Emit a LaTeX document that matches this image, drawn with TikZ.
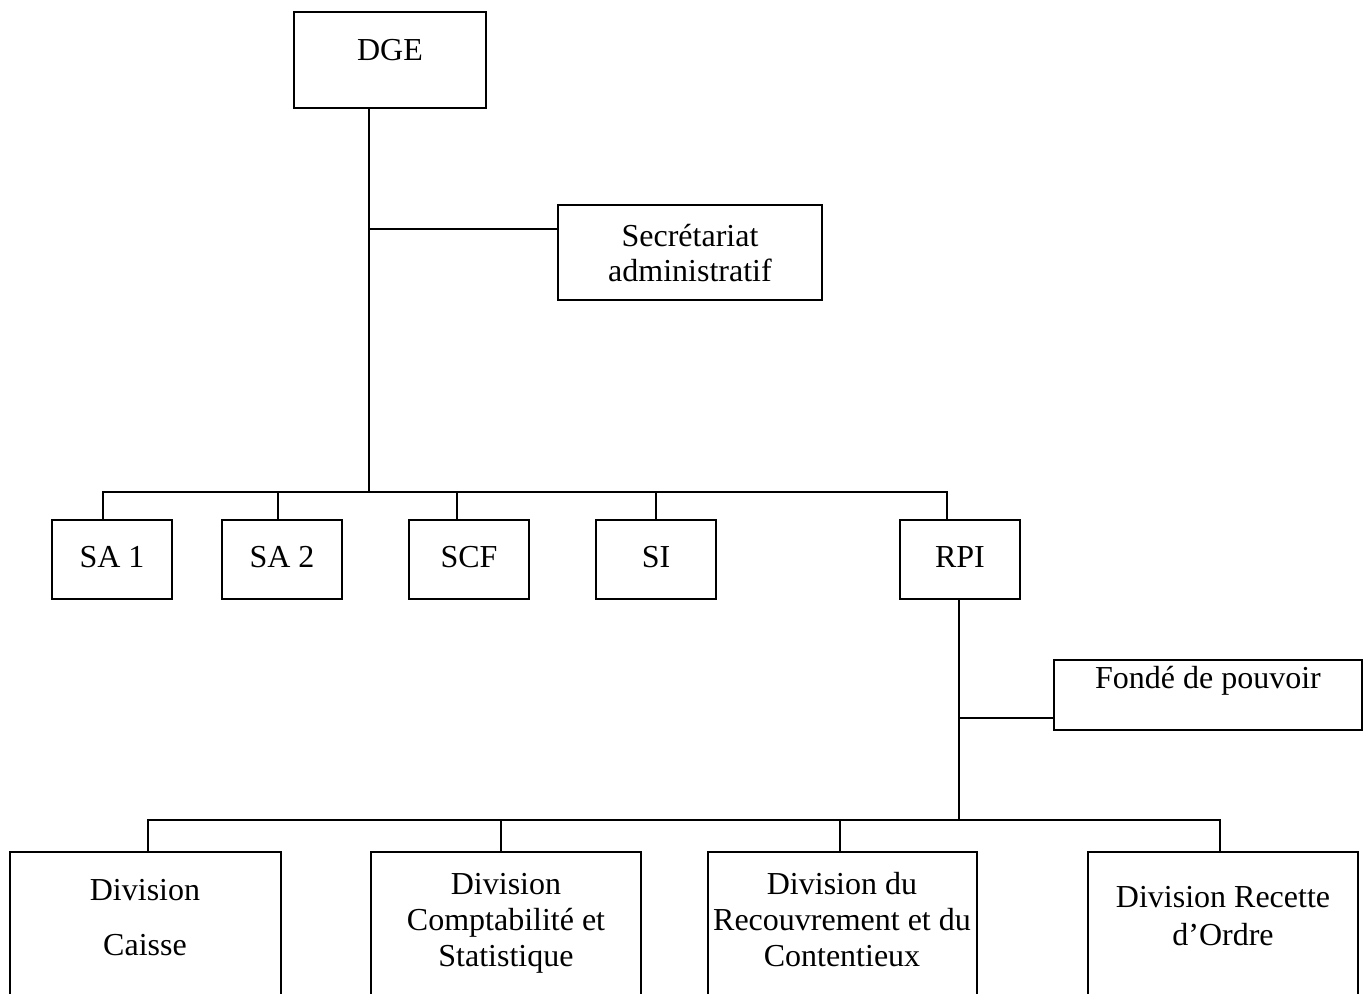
\documentclass[tikz,border=0pt]{standalone}
\usepackage{fontspec}
\setmainfont{Liberation Serif}
\usetikzlibrary{fit}

\begin{document}
\begin{tikzpicture}[
  x=0.5pt, y=-0.5pt,
  unit/.style={draw, line width=0.9pt, inner sep=0pt},
  caption/.style={align=center, inner sep=0pt},
  link/.style={line width=0.8pt},
  every node/.style={font=\fontsize{16}{18}\selectfont}
]
  \useasboundingbox (0,0) rectangle (1366,994);

  % direction
  \node[unit, fit={(294,12) (486,108)}] (dge) {};
  \node[caption] (dgetxt) at (390,50) {DGE};
  \node[unit, fit={(558,205) (822,300)}] (sec) {};
  \node[caption] (sectxt) at (690,253) {Secrétariat\\[-0.5pt]administratif};

  % services
  \foreach \n/\l/\x in {sa1/SA 1/52, sa2/SA 2/222, scf/SCF/409, si/SI/596, rpi/RPI/900} {
    \node[unit, fit={(\x,520) (\x+120,599)}] (\n) {};
    \node[caption] (\n txt) at (\x+60,557) {\l};
  }
  \node[unit, fit={(1054,660) (1362,730)}] (fonde) {};
  \node[caption] (fondetxt) at (1208,681) {Fondé de pouvoir};

  % divisions (cut by the page edge)
  \node[unit, fit={(10,852) (281,1006)}] (caisse) {};
  \node[caption] (caissetxt) at (145,918) {Division\\[9.5pt]Caisse};
  \node[unit, fit={(371,852) (641,1006)}] (compta) {};
  \node[caption] (comptatxt) at (506,923) {Division\\Comptabilité et\\Statistique};
  \node[unit, fit={(708,852) (977,1006)}] (recouv) {};
  \node[caption] (recouvtxt) at (842,920) {Division du\\Recouvrement et du\\Contentieux};
  \node[unit, fit={(1088,852) (1358,1006)}] (recette) {};
  \node[caption] (recettetxt) at (1223,916) {Division Recette\\[1pt]d’Ordre};

  \coordinate (hub) at (369,492);
  \coordinate (secjoin) at (369,229);
  \coordinate (rpihub) at (959,820);
  \coordinate (fondejoin) at (959,718);

  % links
  \draw[link] (dge.south -| hub) -- (hub);
  \draw[link] (secjoin) -- (secjoin -| sec.west);
  \draw[link] (sa1.north -| 103,0) -- (103,492) -- (947,492) -- (rpi.north -| 947,0);
  \foreach \n/\x in {sa2/278, scf/457, si/656}
    \draw[link] (\n.north -| \x,0) -- (\x,492);

  \draw[link] (rpi.south -| rpihub) -- (rpihub);
  \draw[link] (fondejoin) -- (fondejoin -| fonde.west);
  \draw[link] (caisse.north -| 148,0) -- (148,820) -- (1220,820) -- (recette.north -| 1220,0);
  \foreach \n/\x in {compta/501, recouv/840}
    \draw[link] (\n.north -| \x,0) -- (\x,820);
\end{tikzpicture}
\end{document}
